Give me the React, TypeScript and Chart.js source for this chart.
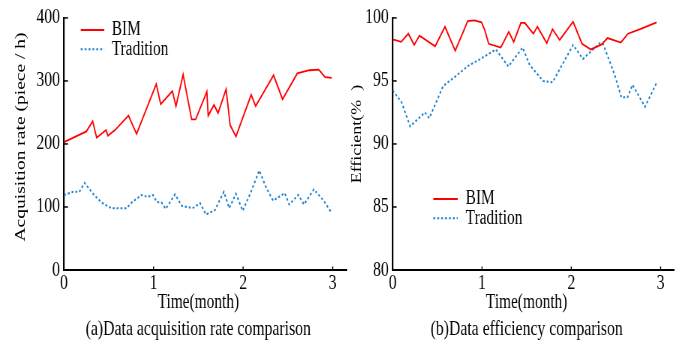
import { useEffect, useRef } from 'react';
import { Chart, registerables } from 'chart.js';

Chart.register(...registerables);

// Both panels are drawn on a wider backing canvas and narrowed with CSS,
// which gives the condensed lettering of the printed figure.
const SQUEEZE = 0.75;
const px = (cssPx: number) => cssPx / SQUEEZE;
const FONT = "'Liberation Serif', 'Times New Roman', serif";

const seriesNames = ['BIM', 'Tradition'];
const monthTicks = [0, 1, 2, 3];
const rateTicks = [0, 100, 200, 300, 400];
const effTicks = [80, 85, 90, 95, 100];

// (a) acquisition rate, piece / h
const bimTimeA = [0, 0.25, 0.32, 0.365, 0.47, 0.49, 0.57, 0.72, 0.81, 1.03, 1.08, 1.21, 1.25, 1.33, 1.425, 1.47, 1.595, 1.61, 1.675, 1.72, 1.81, 1.855, 1.92, 2.09, 2.14, 2.34, 2.44, 2.605, 2.74, 2.845, 2.915, 2.99];
const bimRateA = [203, 220, 236, 210, 222, 213, 222, 245, 216, 295, 263, 284, 260, 310, 239, 239, 283, 245, 262, 249, 287, 230, 212, 278, 260, 309, 271, 312, 317, 318, 306, 305];
const tradTimeA = [0, 0.1, 0.17, 0.23, 0.33, 0.42, 0.53, 0.7, 0.755, 0.865, 0.93, 0.995, 1.035, 1.09, 1.135, 1.24, 1.315, 1.435, 1.52, 1.585, 1.685, 1.785, 1.845, 1.92, 1.995, 2.085, 2.18, 2.26, 2.335, 2.465, 2.515, 2.615, 2.68, 2.79, 2.895, 2.99];
const tradRateA = [119, 124, 124, 138, 120, 107, 98, 98, 107, 119, 116, 119, 108, 107, 97, 120, 102, 98, 106, 88, 95, 124, 98, 121, 94, 123, 158, 130, 110, 122, 104, 119, 104, 128, 111, 90];

// (b) efficiency, %
const bimTimeB = [0, 0.095, 0.175, 0.24, 0.3, 0.475, 0.585, 0.7, 0.84, 0.915, 0.995, 1.03, 1.075, 1.21, 1.3, 1.355, 1.435, 1.48, 1.575, 1.62, 1.725, 1.79, 1.87, 2.02, 2.12, 2.22, 2.34, 2.405, 2.555, 2.635, 2.785, 2.955];
const bimEffB = [98.3, 98.1, 98.75, 97.85, 98.6, 97.75, 99.3, 97.4, 99.75, 99.8, 99.65, 99.05, 97.95, 97.65, 98.9, 98.1, 99.6, 99.6, 98.75, 99.3, 98.0, 99.1, 98.25, 99.7, 97.95, 97.5, 97.9, 98.4, 98.05, 98.75, 99.15, 99.65];
const tradTimeB = [0, 0.1, 0.195, 0.36, 0.41, 0.565, 0.7, 0.845, 0.96, 1.155, 1.295, 1.455, 1.535, 1.685, 1.79, 2.02, 2.13, 2.32, 2.355, 2.485, 2.56, 2.63, 2.685, 2.825, 2.955];
const tradEffB = [94.25, 93.3, 91.4, 92.5, 92.05, 94.6, 95.35, 96.2, 96.65, 97.5, 96.15, 97.65, 96.25, 95.0, 94.9, 97.85, 96.75, 98.0, 97.95, 95.5, 93.7, 93.7, 94.7, 92.95, 94.85];

const RED = '#ff0000';
const BLUE = '#1e82d2';

const toPoints = (xs: number[], ys: number[]) => xs.map((x, i) => ({ x, y: ys[i] }));

// Short tick marks pointing into the plot area.
const innerTicks = {
  id: 'innerTicks',
  afterDraw(chart: any) {
    const { ctx, chartArea } = chart;
    const xs = chart.scales.x;
    const ys = chart.scales.y;
    ctx.save();
    ctx.strokeStyle = '#000';
    ctx.lineWidth = 1.4;
    xs.ticks.forEach((t: any) => {
      const p = xs.getPixelForValue(t.value);
      ctx.beginPath();
      ctx.moveTo(p, chartArea.bottom);
      ctx.lineTo(p, chartArea.bottom - 3.5);
      ctx.stroke();
    });
    ctx.lineWidth = 1.5;
    ys.ticks.forEach((t: any) => {
      const p = ys.getPixelForValue(t.value);
      ctx.beginPath();
      ctx.moveTo(chartArea.left, p);
      ctx.lineTo(chartArea.left + px(4), p);
      ctx.stroke();
    });
    ctx.restore();
  },
};

// Legend placed inside the plot area; offsets are measured from the plot's left edge.
const insetLegend = {
  id: 'insetLegend',
  afterDraw(chart: any, _args: any, opts: any) {
    const { ctx, chartArea } = chart;
    const lineStart = chartArea.left + px(opts.lineFrom);
    const lineEnd = chartArea.left + px(opts.lineTo);
    const textX = chartArea.left + px(opts.textFrom);
    chart.data.datasets.forEach((ds: any, i: number) => {
      const y = opts.y + i * opts.gap;
      ctx.save();
      ctx.strokeStyle = ds.borderColor;
      ctx.lineWidth = ds.borderWidth;
      ctx.setLineDash(ds.borderDash || []);
      ctx.beginPath();
      ctx.moveTo(lineStart, y);
      ctx.lineTo(lineEnd, y);
      ctx.stroke();
      ctx.setLineDash([]);
      ctx.fillStyle = '#000';
      ctx.font = `${opts.size}px ${FONT}`;
      ctx.textAlign = 'left';
      ctx.textBaseline = 'middle';
      ctx.fillText(ds.label, textX, y);
      ctx.restore();
    });
  },
};

// Axis titles and the panel caption.
const panelText = {
  id: 'panelText',
  afterDraw(chart: any, _args: any, o: any) {
    const { ctx } = chart;
    const xs = chart.scales.x;
    const mid = (monthTicks[0] + monthTicks[monthTicks.length - 1]) / 2;
    const cx = xs.getPixelForValue(mid);
    ctx.save();
    ctx.fillStyle = '#000';
    ctx.textAlign = 'center';
    ctx.textBaseline = 'middle';
    ctx.font = `${o.xTitleSize}px ${FONT}`;
    ctx.fillText(o.xTitle, cx, o.xTitleY);
    ctx.font = `${o.captionSize}px ${FONT}`;
    ctx.fillText(o.caption, cx, o.captionY);
    ctx.translate(px(o.yTitleX), o.yTitleY);
    ctx.rotate(-Math.PI / 2);
    ctx.font = `${o.yTitleSize}px ${FONT}`;
    ctx.fillText(o.yTitle, 0, 0);
    ctx.restore();
  },
};

type PanelSpec = {
  bim: { x: number; y: number }[];
  trad: { x: number; y: number }[];
  xMax: number;
  yMin: number;
  yMax: number;
  yTicks: number[];
  yAxisWidth: number;
  padRight: number;
  padTop: number;
  legend: any;
  text: any;
};

function buildConfig(p: PanelSpec): any {
  const tickFont = { family: FONT, size: 21 };
  return {
    type: 'line',
    data: {
      datasets: [
        {
          label: seriesNames[0],
          data: p.bim,
          borderColor: RED,
          backgroundColor: RED,
          borderWidth: 1.8,
          pointRadius: 0,
          tension: 0,
          fill: false,
        },
        {
          label: seriesNames[1],
          data: p.trad,
          borderColor: BLUE,
          backgroundColor: BLUE,
          borderWidth: 2,
          borderDash: [2.6, 2.6],
          pointRadius: 0,
          tension: 0,
          fill: false,
        },
      ],
    },
    options: {
      responsive: false,
      animation: false,
      devicePixelRatio: 1,
      events: [],
      layout: { padding: { top: p.padTop, left: 0, right: p.padRight, bottom: 0 } },
      scales: {
        x: {
          type: 'linear',
          min: 0,
          max: p.xMax,
          afterBuildTicks: (ax: any) => {
            ax.ticks = monthTicks.map((value) => ({ value }));
          },
          afterFit: (ax: any) => {
            ax.height = 75;
          },
          grid: { display: true, drawOnChartArea: false, drawTicks: false },
          border: { display: true, color: '#000', width: 2 },
          ticks: { font: tickFont, color: '#000', padding: 1, maxRotation: 0, autoSkip: false },
        },
        y: {
          type: 'linear',
          min: p.yMin,
          max: p.yMax,
          afterBuildTicks: (ax: any) => {
            ax.ticks = p.yTicks.map((value) => ({ value }));
          },
          afterFit: (ax: any) => {
            ax.width = px(p.yAxisWidth);
          },
          grid: { display: true, drawOnChartArea: false, drawTicks: false },
          border: { display: true, color: '#000', width: 2.2 },
          ticks: { font: tickFont, color: '#000', padding: px(4), autoSkip: false },
        },
      },
      plugins: {
        legend: { display: false },
        tooltip: { enabled: false },
        title: { display: false },
        insetLegend: p.legend,
        panelText: p.text,
      },
    },
    plugins: [innerTicks, insetLegend, panelText],
  };
}

const panelA: PanelSpec = {
  bim: toPoints(bimTimeA, bimRateA),
  trad: toPoints(tradTimeA, tradRateA),
  xMax: 3.16,
  yMin: rateTicks[0],
  yMax: rateTicks[rateTicks.length - 1],
  yTicks: rateTicks,
  yAxisWidth: 64,
  padRight: px(351 - 347),
  padTop: 14.5,
  legend: { lineFrom: 16.7, lineTo: 40.3, textFrom: 47.7, y: 30, gap: 19.3, size: 20.5 },
  text: {
    xTitle: 'Time(month)',
    xTitleY: 302.5,
    xTitleSize: 20.5,
    caption: '(a)Data acquisition rate comparison',
    captionY: 329.5,
    captionSize: 21,
    yTitle: 'Acquisition rate (piece / h)',
    yTitleX: 21,
    yTitleY: 137,
    yTitleSize: 19.5,
  },
};

const panelB: PanelSpec = {
  bim: toPoints(bimTimeB, bimEffB),
  trad: toPoints(tradTimeB, tradEffB),
  xMax: 3.15,
  yMin: effTicks[0],
  yMax: effTicks[effTicks.length - 1],
  yTicks: effTicks,
  yAxisWidth: 52.7,
  padRight: px(342 - 334),
  padTop: 14,
  legend: { lineFrom: 40.6, lineTo: 65, textFrom: 73, y: 199, gap: 19.3, size: 20.5 },
  text: {
    xTitle: 'Time(month)',
    xTitleY: 302.5,
    xTitleSize: 20.5,
    caption: '(b)Data efficiency comparison',
    captionY: 329.5,
    captionSize: 21,
    yTitle: 'Efficient(%  )',
    yTitleX: 17.5,
    yTitleY: 134,
    yTitleSize: 18,
  },
};

function Panel({ spec, left, cssWidth }: { spec: PanelSpec; left: number; cssWidth: number }) {
  const ref = useRef<HTMLCanvasElement | null>(null);
  useEffect(() => {
    if (!ref.current) return;
    const chart = new Chart(ref.current, buildConfig(spec));
    return () => chart.destroy();
  }, [spec]);
  return (
    <canvas
      ref={ref}
      width={Math.round(px(cssWidth))}
      height={345}
      style={{ position: 'absolute', left, top: 0, width: cssWidth, height: 345 }}
    />
  );
}

export default function App() {
  return (
    <div
      style={{
        position: 'fixed',
        left: 0,
        top: 0,
        width: 681,
        height: 345,
        background: '#fff',
        overflow: 'hidden',
      }}
    >
      <Panel spec={panelA} left={0} cssWidth={351} />
      <Panel spec={panelB} left={340} cssWidth={342} />
    </div>
  );
}
